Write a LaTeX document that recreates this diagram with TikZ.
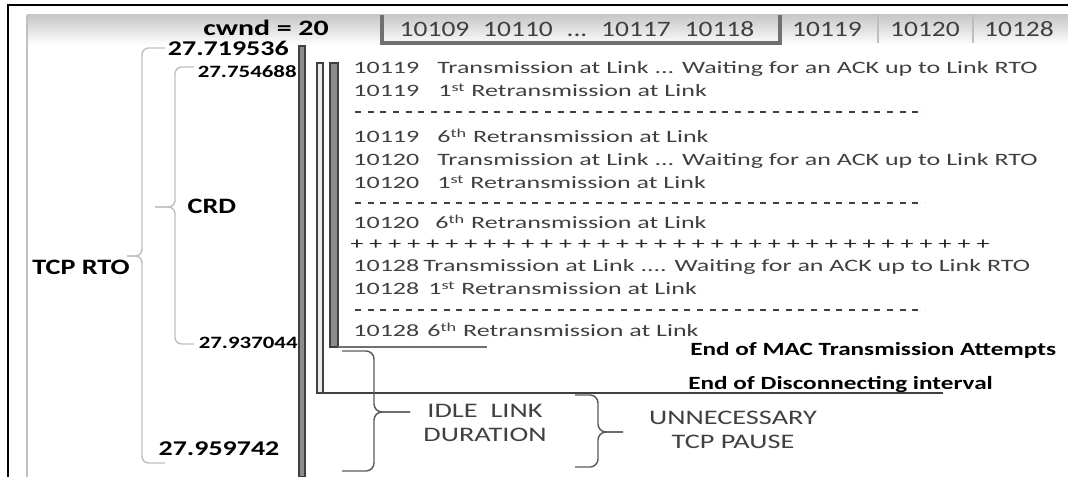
\documentclass[tikz,border=0pt]{standalone}
\usepackage{fontspec}
\setmainfont{Carlito}
\usepackage{tikz}
\usepackage{xcolor}
\usetikzlibrary{positioning}
\definecolor{txtgray}{HTML}{404040}
\definecolor{lightbr}{HTML}{C0C0C0}
\definecolor{darkbr}{HTML}{5A5A5A}
\definecolor{barfill}{HTML}{8C8C8C}
\definecolor{barlight}{HTML}{EBEBEB}
\definecolor{boxgray}{HTML}{707070}
\definecolor{sepgray}{HTML}{BEBEBE}

\begin{document}
\begin{tikzpicture}[x=0.75pt,y=0.75pt,
  body/.style={font=\fontsize{13}{15}\selectfont, text=txtgray, xscale=1.5, anchor=base west},
  hdr/.style={font=\fontsize{16.5}{19}\selectfont, text=txtgray, xscale=1.25},
  tm/.style={font=\bfseries\fontsize{13}{15}\selectfont, xscale=1.32, anchor=east},
  tmbig/.style={font=\bfseries\fontsize{15.75}{18}\selectfont, xscale=1.33},
  lbl/.style={font=\bfseries\fontsize{16.5}{19}\selectfont, xscale=1.28},
  note/.style={font=\bfseries\fontsize{14}{16}\selectfont, xscale=1.35, anchor=base west},
  captxt/.style={font=\fontsize{15.5}{17.5}\selectfont, text=txtgray, xscale=1.37, align=center},
  lbrace/.style={draw=lightbr, line width=1.1pt, rounded corners=5pt},
  dbrace/.style={draw=darkbr, line width=1.1pt, rounded corners=6pt},
  dashrow/.style={draw=txtgray, line width=0.9pt, dash pattern=on 4.5pt off 5pt},
  bar/.style={draw=txtgray, line width=0.8pt}]
\tikzstyle{every node}+=[inner sep=0pt]
\useasboundingbox (0,0) rectangle (1068,-477);

\shade[top color=black!22, bottom color=white] (27,-15) rectangle (1068,-45);
\draw [black, line width=1.2pt] (8,-477) -- (8,-5) -- (1068,-5);
\draw [lightbr, line width=1.1pt] (27,-15) -- (27,-477);
\draw [boxgray, line width=2.4pt] (382,-15) -- (382,-43) -- (780,-43) -- (780,-15);
\draw [sepgray, line width=0.9pt] (878,-15) -- (878,-43);
\draw [sepgray, line width=0.9pt] (973,-15) -- (973,-43);

\node [lbl, xscale=1.06] (cwnd) at (266,-28) {cwnd = 20};
\node [hdr] (sent) at (577,-29) {10109\enspace 10110\enspace ...\enspace 10117\enspace 10118};
\node [hdr] (seg1) at (827,-29) {10119};
\node [hdr] (seg2) at (925,-29) {10120};
\node [hdr] (seg3) at (1019,-29) {10128};

\draw [bar, fill=barfill] (299,-46) rectangle (305,-477);
\draw [bar, fill=barlight] (317,-63) rectangle (323,-393);
\draw [bar, fill=barfill] (330,-63) rectangle (338,-347);
\coordinate (disc) at (943,-393);
\coordinate (mac) at (487,-347);
\draw [txtgray, line width=0.9pt] (317,-393) -- (disc);
\draw [boxgray, line width=0.9pt] (338,-347) -- (mac);

\node [tmbig, anchor=east] (rtostart) at (289,-48) {27.719536};
\node [tm] (crdstart) at (297,-72) {27.754688};
\node [tm] (crdend) at (298,-343) {27.937044};
\node [tmbig] (rtoend) at (219,-449) {27.959742};
\node [lbl] (crd) at (212,-206) {CRD};
\node [lbl] (tcprto) at (81,-267) {TCP RTO};

\draw [lbrace] (127,-256) -- (142,-256) -- (142,-48) -- (165,-48);
\draw [lbrace] (127,-256) -- (142,-256) -- (142,-463) -- (165,-463);
\draw [lbrace] (155,-207) -- (175,-207) -- (175,-67) -- (194,-67);
\draw [lbrace] (155,-207) -- (175,-207) -- (175,-344) -- (194,-344);

\node [body] (n1) at (353,-74) {10119};
\node [body] (m1) at (437,-74) {Transmission at Link ... Waiting for an ACK up to Link RTO};
\node [body] (n2) at (353,-97) {10119};
\node [body] (m2) at (438,-97) {1\textsuperscript{st} Retransmission at Link};
\draw [dashrow] (355,-112) -- (925,-112);
\node [body] (n3) at (353,-143) {10119};
\node [body] (m3) at (437,-143) {6\textsuperscript{th} Retransmission at Link};
\node [body] (n4) at (353,-166) {10120};
\node [body] (m4) at (437,-166) {Transmission at Link ... Waiting for an ACK up to Link RTO};
\node [body] (n5) at (353,-189) {10120};
\node [body] (m5) at (437,-189) {1\textsuperscript{st} Retransmission at Link};
\draw [dashrow] (355,-203) -- (925,-203);
\node [body] (n6) at (353,-229) {10120};
\node [body] (m6) at (435,-229) {6\textsuperscript{th} Retransmission at Link};
\foreach \k in {0,...,33}
  \node [body, anchor=center, text=black!85] (plus\k) at (357+\k*18.97,-245) {+};
\node [body] (n7) at (353,-272) {10128};
\node [body] (m7) at (423,-272) {Transmission at Link .... Waiting for an ACK up to Link RTO};
\node [body] (n8) at (353,-295) {10128};
\node [body] (m8) at (428,-295) {1\textsuperscript{st} Retransmission at Link};
\draw [dashrow] (355,-310) -- (925,-310);
\node [body] (n9) at (353,-337) {10128};
\node [body] (m9) at (427,-337) {6\textsuperscript{th} Retransmission at Link};

\node [note] (endmac) at (690,-356) {End of MAC Transmission Attempts};
\node [note] (enddisc) at (688,-390) {End of Disconnecting interval};

\draw [dbrace] (410,-412) -- (374,-412) -- (374,-351) -- (342,-351);
\draw [dbrace] (410,-412) -- (374,-412) -- (374,-471) -- (342,-471);
\node [captxt] (idle) at (485,-423) {IDLE\ \ LINK\\DURATION};
\draw [dbrace] (623,-432) -- (598,-432) -- (598,-395) -- (575,-395);
\draw [dbrace] (623,-432) -- (598,-432) -- (598,-467) -- (575,-467);
\node [captxt] (pause) at (733,-430) {UNNECESSARY\\TCP PAUSE};
\end{tikzpicture}
\end{document}
